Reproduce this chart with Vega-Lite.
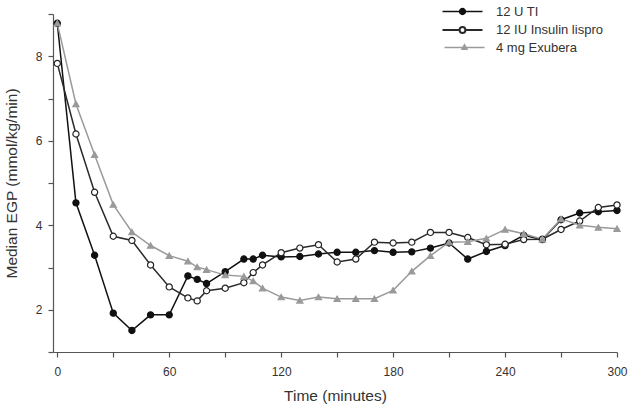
{
  "$schema": "https://vega.github.io/schema/vega-lite/v6.json",
  "width": 564,
  "height": 338,
  "autosize": "none",
  "padding": {"left": 53, "top": 14, "right": 17, "bottom": 64},
  "background": "white",
  "config": {
    "view": {"stroke": null},
    "font": "Liberation Sans",
    "axis": {
      "grid": false,
      "domainColor": "#555",
      "tickColor": "#555",
      "domainWidth": 1.2,
      "tickWidth": 1.2,
      "tickSize": 5,
      "labelFont": "Liberation Sans",
      "labelFontSize": 12,
      "labelColor": "#333",
      "titleFont": "Liberation Sans",
      "titleFontSize": 15.5,
      "titleFontWeight": "normal",
      "titleColor": "#333",
      "labelOverlap": false,
      "labelFlush": false
    }
  },
  "data": {
    "values": [
      {"series": "12 U TI", "t": 0, "v": 8.78},
      {"series": "12 U TI", "t": 10, "v": 4.53},
      {"series": "12 U TI", "t": 20, "v": 3.29},
      {"series": "12 U TI", "t": 30, "v": 1.92},
      {"series": "12 U TI", "t": 40, "v": 1.51},
      {"series": "12 U TI", "t": 50, "v": 1.88},
      {"series": "12 U TI", "t": 60, "v": 1.88},
      {"series": "12 U TI", "t": 70, "v": 2.8},
      {"series": "12 U TI", "t": 75, "v": 2.72},
      {"series": "12 U TI", "t": 80, "v": 2.62},
      {"series": "12 U TI", "t": 90, "v": 2.9},
      {"series": "12 U TI", "t": 100, "v": 3.2},
      {"series": "12 U TI", "t": 105, "v": 3.2},
      {"series": "12 U TI", "t": 110, "v": 3.29},
      {"series": "12 U TI", "t": 120, "v": 3.25},
      {"series": "12 U TI", "t": 130, "v": 3.26},
      {"series": "12 U TI", "t": 140, "v": 3.32},
      {"series": "12 U TI", "t": 150, "v": 3.36},
      {"series": "12 U TI", "t": 160, "v": 3.36},
      {"series": "12 U TI", "t": 170, "v": 3.4},
      {"series": "12 U TI", "t": 180, "v": 3.36},
      {"series": "12 U TI", "t": 190, "v": 3.37},
      {"series": "12 U TI", "t": 200, "v": 3.46},
      {"series": "12 U TI", "t": 210, "v": 3.58},
      {"series": "12 U TI", "t": 220, "v": 3.2},
      {"series": "12 U TI", "t": 230, "v": 3.38},
      {"series": "12 U TI", "t": 240, "v": 3.52},
      {"series": "12 U TI", "t": 250, "v": 3.76},
      {"series": "12 U TI", "t": 260, "v": 3.66},
      {"series": "12 U TI", "t": 270, "v": 4.13},
      {"series": "12 U TI", "t": 280, "v": 4.29},
      {"series": "12 U TI", "t": 290, "v": 4.32},
      {"series": "12 U TI", "t": 300, "v": 4.35},
      {"series": "12 IU Insulin lispro", "t": 0, "v": 7.83},
      {"series": "12 IU Insulin lispro", "t": 10, "v": 6.16},
      {"series": "12 IU Insulin lispro", "t": 20, "v": 4.78},
      {"series": "12 IU Insulin lispro", "t": 30, "v": 3.74},
      {"series": "12 IU Insulin lispro", "t": 40, "v": 3.64},
      {"series": "12 IU Insulin lispro", "t": 50, "v": 3.06},
      {"series": "12 IU Insulin lispro", "t": 60, "v": 2.54},
      {"series": "12 IU Insulin lispro", "t": 70, "v": 2.28},
      {"series": "12 IU Insulin lispro", "t": 75, "v": 2.21},
      {"series": "12 IU Insulin lispro", "t": 80, "v": 2.45},
      {"series": "12 IU Insulin lispro", "t": 90, "v": 2.51},
      {"series": "12 IU Insulin lispro", "t": 100, "v": 2.64},
      {"series": "12 IU Insulin lispro", "t": 105, "v": 2.88},
      {"series": "12 IU Insulin lispro", "t": 110, "v": 3.06},
      {"series": "12 IU Insulin lispro", "t": 120, "v": 3.35},
      {"series": "12 IU Insulin lispro", "t": 130, "v": 3.46},
      {"series": "12 IU Insulin lispro", "t": 140, "v": 3.54},
      {"series": "12 IU Insulin lispro", "t": 150, "v": 3.13},
      {"series": "12 IU Insulin lispro", "t": 160, "v": 3.2},
      {"series": "12 IU Insulin lispro", "t": 170, "v": 3.6},
      {"series": "12 IU Insulin lispro", "t": 180, "v": 3.58},
      {"series": "12 IU Insulin lispro", "t": 190, "v": 3.6},
      {"series": "12 IU Insulin lispro", "t": 200, "v": 3.83},
      {"series": "12 IU Insulin lispro", "t": 210, "v": 3.83},
      {"series": "12 IU Insulin lispro", "t": 220, "v": 3.71},
      {"series": "12 IU Insulin lispro", "t": 230, "v": 3.54},
      {"series": "12 IU Insulin lispro", "t": 240, "v": 3.55},
      {"series": "12 IU Insulin lispro", "t": 250, "v": 3.66},
      {"series": "12 IU Insulin lispro", "t": 260, "v": 3.67},
      {"series": "12 IU Insulin lispro", "t": 270, "v": 3.9},
      {"series": "12 IU Insulin lispro", "t": 280, "v": 4.1},
      {"series": "12 IU Insulin lispro", "t": 290, "v": 4.42},
      {"series": "12 IU Insulin lispro", "t": 300, "v": 4.48},
      {"series": "4 mg Exubera", "t": 0, "v": 8.78},
      {"series": "4 mg Exubera", "t": 10, "v": 6.87},
      {"series": "4 mg Exubera", "t": 20, "v": 5.67},
      {"series": "4 mg Exubera", "t": 30, "v": 4.49},
      {"series": "4 mg Exubera", "t": 40, "v": 3.84},
      {"series": "4 mg Exubera", "t": 50, "v": 3.52},
      {"series": "4 mg Exubera", "t": 60, "v": 3.28},
      {"series": "4 mg Exubera", "t": 70, "v": 3.15},
      {"series": "4 mg Exubera", "t": 75, "v": 3.01},
      {"series": "4 mg Exubera", "t": 80, "v": 2.95},
      {"series": "4 mg Exubera", "t": 90, "v": 2.82},
      {"series": "4 mg Exubera", "t": 100, "v": 2.79},
      {"series": "4 mg Exubera", "t": 105, "v": 2.68},
      {"series": "4 mg Exubera", "t": 110, "v": 2.51},
      {"series": "4 mg Exubera", "t": 120, "v": 2.3},
      {"series": "4 mg Exubera", "t": 130, "v": 2.22},
      {"series": "4 mg Exubera", "t": 140, "v": 2.3},
      {"series": "4 mg Exubera", "t": 150, "v": 2.26},
      {"series": "4 mg Exubera", "t": 160, "v": 2.26},
      {"series": "4 mg Exubera", "t": 170, "v": 2.26},
      {"series": "4 mg Exubera", "t": 180, "v": 2.46},
      {"series": "4 mg Exubera", "t": 190, "v": 2.91},
      {"series": "4 mg Exubera", "t": 200, "v": 3.28},
      {"series": "4 mg Exubera", "t": 210, "v": 3.6},
      {"series": "4 mg Exubera", "t": 220, "v": 3.61},
      {"series": "4 mg Exubera", "t": 230, "v": 3.69},
      {"series": "4 mg Exubera", "t": 240, "v": 3.9},
      {"series": "4 mg Exubera", "t": 250, "v": 3.8},
      {"series": "4 mg Exubera", "t": 260, "v": 3.67},
      {"series": "4 mg Exubera", "t": 270, "v": 4.15},
      {"series": "4 mg Exubera", "t": 280, "v": 4.0},
      {"series": "4 mg Exubera", "t": 290, "v": 3.95},
      {"series": "4 mg Exubera", "t": 300, "v": 3.92}
    ]
  },
  "encoding": {
    "x": {
      "field": "t",
      "type": "quantitative",
      "scale": {"domain": [-2.3, 300], "nice": false, "zero": false},
      "axis": {
        "title": "Time (minutes)",
        "values": [0, 30, 60, 90, 120, 150, 180, 210, 240, 270, 300],
        "labelExpr": "datum.value % 60 === 0 ? datum.label : ''",
        "labelPadding": 9,
        "titlePadding": 11
      }
    },
    "y": {
      "field": "v",
      "type": "quantitative",
      "scale": {"domain": [1, 9], "nice": false, "zero": false},
      "axis": {
        "title": "Median EGP (mmol/kg/min)",
        "values": [1, 2, 3, 4, 5, 6, 7, 8, 9],
        "labelExpr": "(datum.value % 2 === 0 && datum.value < 9) ? datum.label : ''",
        "labelPadding": 6,
        "titlePadding": 16
      }
    }
  },
  "resolve": {
    "legend": {"stroke": "independent", "color": "independent", "fill": "independent", "shape": "independent", "size": "independent"}
  },
  "layer": [
    {
      "mark": {"type": "line", "strokeWidth": 1.5},
      "encoding": {
        "stroke": {
          "field": "series",
          "type": "nominal",
          "scale": {
            "domain": ["12 U TI", "12 IU Insulin lispro", "4 mg Exubera"],
            "range": ["#111111", "#2a2a2a", "#9a9a9a"]
          },
          "legend": {
            "orient": "none",
            "legendX": 403,
            "legendY": -9,
            "title": null,
            "padding": 0,
            "symbolType": "M-4,0H4",
            "symbolSize": 100,
            "symbolStrokeWidth": 1.5,
            "labelFont": "Liberation Sans",
            "labelFontSize": 13,
            "labelColor": "#333",
            "labelOffset": 27,
            "rowPadding": 3.5,
            "encode": {
              "symbols": {
                "update": {
                  "shape": {"signal": "datum.value === '12 U TI' ? 'M-4,0H4M0.58,0A0.58,0.58,0,1,1,-0.58,0A0.58,0.58,0,1,1,0.58,0Z' : datum.value === '12 IU Insulin lispro' ? 'M-4,0H-0.58M0.58,0H4M0.58,0A0.58,0.58,0,1,1,-0.58,0A0.58,0.58,0,1,1,0.58,0Z' : 'M-3.6,0H4.4M0.4,-0.55L0.9,0.35L-0.1,0.35Z'"},
                  "fill": {"signal": "datum.value === '12 U TI' ? '#111111' : datum.value === '12 IU Insulin lispro' ? '#ffffff' : '#9a9a9a'"},
                  "fillOpacity": {"value": 1},
                  "size": {"value": 100},
                  "strokeWidth": {"signal": "datum.value === '12 IU Insulin lispro' ? 2 : 1.5"}
                }
              }
            }
          }
        }
      }
    },
    {
      "mark": {"type": "point", "strokeWidth": 1.2, "opacity": 1},
      "encoding": {
        "color": {
          "field": "series",
          "type": "nominal",
          "scale": {
            "domain": ["12 U TI", "12 IU Insulin lispro", "4 mg Exubera"],
            "range": ["#111111", "#222222", "#9a9a9a"]
          },
          "legend": null
        },
        "fill": {
          "field": "series",
          "type": "nominal",
          "scale": {
            "domain": ["12 U TI", "12 IU Insulin lispro", "4 mg Exubera"],
            "range": ["#111111", "#ffffff", "#9a9a9a"]
          },
          "legend": null
        },
        "shape": {
          "field": "series",
          "type": "nominal",
          "scale": {
            "domain": ["12 U TI", "12 IU Insulin lispro", "4 mg Exubera"],
            "range": ["circle", "circle", "triangle-up"]
          },
          "legend": null
        },
        "size": {
          "field": "series",
          "type": "nominal",
          "scale": {
            "domain": ["12 U TI", "12 IU Insulin lispro", "4 mg Exubera"],
            "range": [38, 38, 24]
          },
          "legend": null
        }
      }
    }
  ]
}
